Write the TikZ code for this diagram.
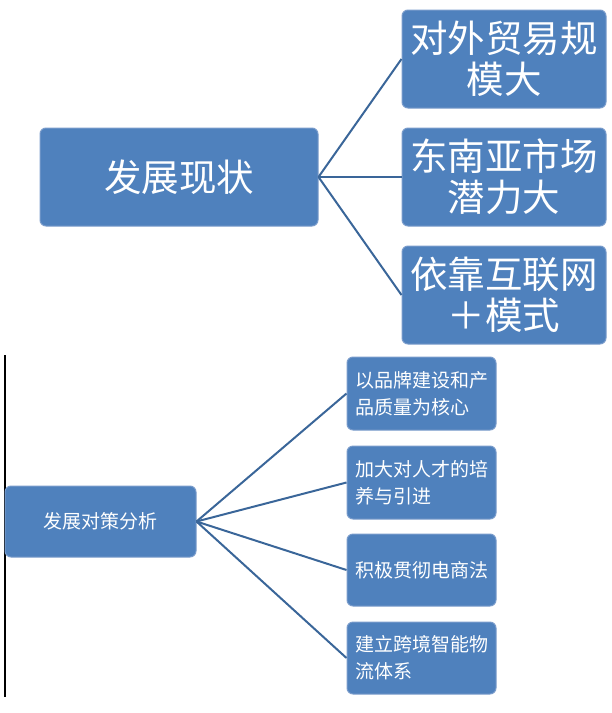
\documentclass[tikz,border=0pt]{standalone}
\usepackage{fontspec}
\setmainfont{Noto Sans CJK SC}
\definecolor{boxfill}{HTML}{4F81BD}
\definecolor{boxline}{HTML}{7A9CCB}
\definecolor{conn}{HTML}{3A6699}
\begin{document}
\begin{tikzpicture}[x=1pt,y=-1pt,
  bx/.style={draw=boxline,line width=1pt,fill=boxfill,rounded corners=6pt,text=white,align=center,inner sep=0pt},
  big/.style={font=\fontsize{37.5}{41}\selectfont},
  small/.style={font=\fontsize{19}{27}\selectfont},
  lft/.style={align=left,text width=133pt},
  cn/.style={draw=conn,line width=2pt}]
\useasboundingbox (0,0) rectangle (612,713);
\node[bx,big,minimum width=278pt,minimum height=98pt] (a) at (179,177) {发展现状};
\node[bx,big,minimum width=204pt,minimum height=98pt] (a1) at (504,59) {对外贸易规\\模大};
\node[bx,big,minimum width=204pt,minimum height=98pt] (a2) at (504,177) {东南亚市场\\潜力大};
\node[bx,big,minimum width=204pt,minimum height=98pt] (a3) at (504,295) {依靠互联网\\＋模式};
\foreach \t in {a1,a2,a3} \draw[cn] (a.east) -- (\t.west);
\draw[black,line width=1.2pt] (5,355) coordinate (v1) -- (5,697) coordinate (v2);
\node[bx,small,minimum width=191pt,minimum height=71pt] (b) at (100.5,521.5) {发展对策分析};
\node[bx,small,lft,minimum width=149pt,minimum height=73pt] (b1) at (421.5,393.5) {以品牌建设和产\\品质量为核心};
\node[bx,small,lft,minimum width=149pt,minimum height=73pt] (b2) at (421.5,482.5) {加大对人才的培\\养与引进};
\node[bx,small,lft,minimum width=149pt,minimum height=72pt] (b3) at (421.5,570) {积极贯彻电商法};
\node[bx,small,lft,minimum width=149pt,minimum height=72pt] (b4) at (421.5,658) {建立跨境智能物\\流体系};
\foreach \t in {b1,b2,b3,b4} \draw[cn] (b.east) -- (\t.west);
\end{tikzpicture}
\end{document}
